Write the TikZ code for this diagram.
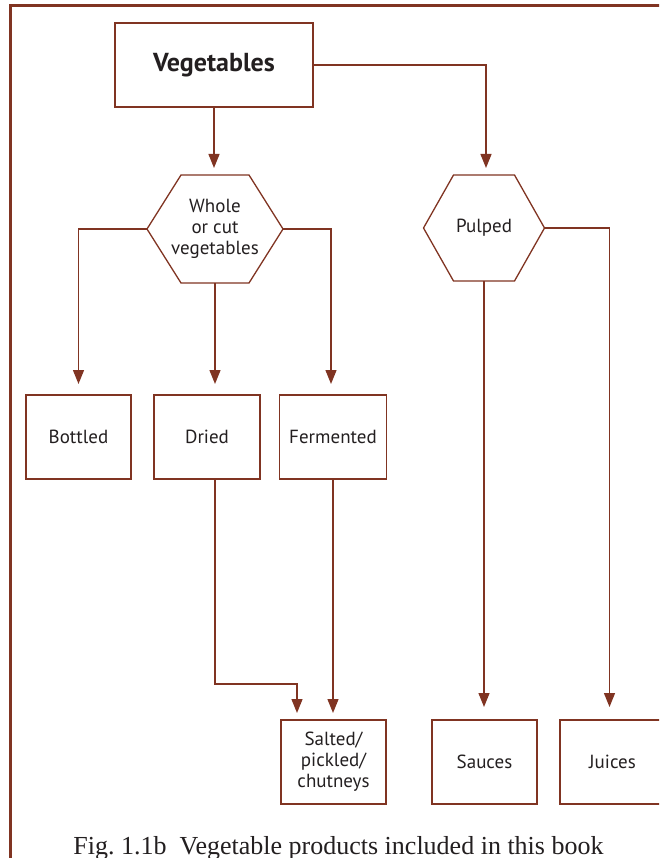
\documentclass[tikz,border=0pt]{standalone}
\usepackage{fontspec}
\setmainfont{Liberation Serif}
\newfontfamily\labelfont{PT Sans}
\usetikzlibrary{arrows.meta,calc}
\definecolor{rust}{RGB}{128,52,34}
\definecolor{ink}{RGB}{35,31,32}

% outline of a flat-topped hexagon drawn round a (borderless) node
\newcommand\hexoutline[2]{%
  \draw[hexline] (#1.west) -- ($(#1.north west)+(#2,0)$) -- ($(#1.north east)+(-#2,0)$)
    -- (#1.east) -- ($(#1.south east)+(-#2,0)$) -- ($(#1.south west)+(#2,0)$) -- cycle;}

\begin{document}
\begin{tikzpicture}[x=1pt,y=-1pt,
  lbl/.style={font=\labelfont\fontsize{19}{21}\selectfont, text=ink, align=center},
  box/.style={lbl, draw=rust, line width=1.3pt, minimum width=105pt, minimum height=84pt,
    inner sep=0pt, outer sep=0pt},
  hexnode/.style={lbl, minimum height=106pt, inner sep=0pt, outer sep=0pt},
  hexline/.style={draw=rust, line width=1.3pt, line join=miter},
  arr/.style={draw=rust, line width=1.3pt, -{Triangle[length=14pt,width=11pt]}},
  frame/.style={draw=rust, line width=3pt}]

\useasboundingbox (0,0) rectangle (659,858);
\clip (0,0) rectangle (659,858);

% outer frame
\draw[frame] (10,900) -- (10,6) -- (720,6);

% top level
\node[box, minimum width=198pt, font=\labelfont\bfseries\fontsize{26}{30}\selectfont] (veg) at (214,65) {Vegetables};

% hexagons
\node[hexnode, minimum width=136pt, minimum height=108pt] (whole) at (215,229) {Whole\\or cut\\vegetables};
\hexoutline{whole}{34}
\node[hexnode, minimum width=121pt] (pulped) at (484,228) {Pulped};
\hexoutline{pulped}{30}

% middle row
\node[box] (bottled) at (78.5,437) {Bottled};
\node[box, minimum width=106pt] (dried) at (207,437) {Dried};
\node[box, minimum width=107pt] (ferm) at (333,437) {Fermented};

% bottom row
\node[box] (salted) at (333.5,762) {Salted/\\pickled/\\chutneys};
\node[box] (sauces) at (484.5,762) {Sauces};
\node[box] (juices) at (612.5,762) {Juices};

% connectors
\draw[arr, shorten >=7pt] (veg.south) -- (veg.south |- whole.north);
\draw[arr, shorten >=7pt] (veg.east) -| ($(pulped.north)+(2,0)$);

\draw[arr, shorten >=11pt] (whole.west) -| (bottled.north);
\draw[arr, shorten >=11pt] (whole.south) -- (whole.south |- dried.north);
\draw[arr, shorten >=11pt] (whole.east) -| ($(ferm.north)+(-2,0)$);

\coordinate (bend) at (297,684);
\draw[arr, shorten >=7pt] (dried.south -| whole.south) |- (bend) -- (bend |- salted.north);
\draw[arr, shorten >=7pt] (ferm.south) -- (ferm.south |- salted.north);

\draw[arr, shorten >=13pt] (pulped.south) -- (pulped.south |- sauces.north);
\draw[arr, shorten >=13pt] (pulped.east) -| ($(juices.north)+(-3,0)$);

% caption
\node[font=\fontsize{26}{26}\selectfont, text=ink, anchor=base, inner sep=0pt] (cap) at (338.5,854)
  {Fig.~1.1b\hspace{0.5em}Vegetable products included in this book};
\end{tikzpicture}
\end{document}
